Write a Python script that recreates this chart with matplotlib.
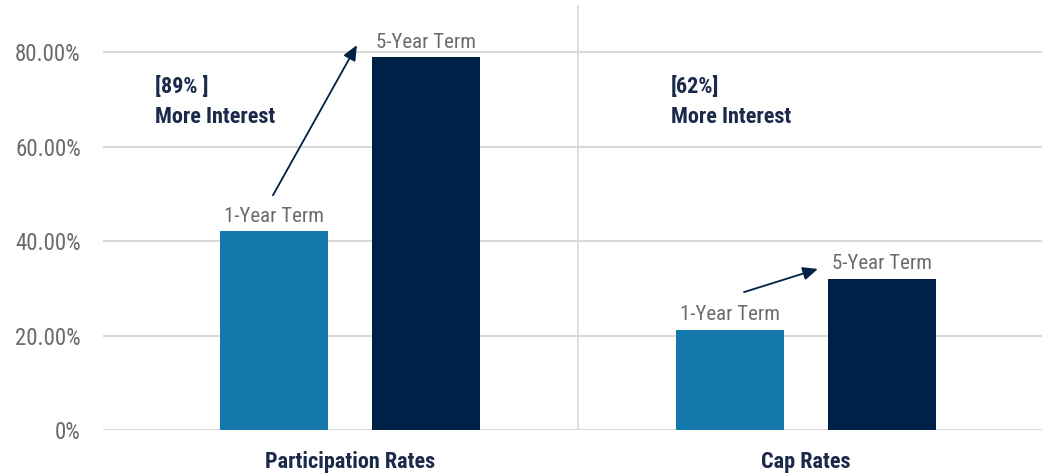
import matplotlib
matplotlib.use("Agg")
import matplotlib.pyplot as plt
from matplotlib import font_manager as fm
from matplotlib.transforms import ScaledTranslation
import numpy as np

# 数据
categories = ["Participation Rates", "Cap Rates"]
one_year = [42.1, 21.2]
five_year = [78.9, 32.0]
series_names = ["1-Year Term", "5-Year Term"]
notes = ["[89% ]\nMore Interest", "[62%]\nMore Interest"]
yticks = [0, 20, 40, 60, 80]
ytick_labels = ["0%", "20.00%", "40.00%", "60.00%", "80.00%"]

c_light = "#1478aa"
c_dark = "#002147"
c_text = "#6b6b6b"
c_note = "#1b2a4a"


# 找一个窄体字体
def pick_font():
    names = [f.name for f in fm.fontManager.ttflist]
    for n in ["Roboto Condensed", "Liberation Sans Narrow", "Open Sans Condensed",
              "Noto Sans Condensed", "DejaVu Sans Condensed"]:
        if n in names:
            return n, "normal"
    for f in fm.fontManager.ttflist:
        if f.name in ("Roboto", "Noto Sans", "Open Sans", "DejaVu Sans") and \
                str(f.stretch) in ("condensed", "semi-condensed", "extra-condensed"):
            return f.name, str(f.stretch)
    return "DejaVu Sans", "normal"


font_name, font_stretch = pick_font()
plt.rcParams["font.family"] = [font_name, "DejaVu Sans"]
plt.rcParams["font.stretch"] = font_stretch

fig = plt.figure(figsize=(10.42, 4.75), dpi=100)
ax = fig.add_axes([103 / 1042, 45 / 475, 939 / 1042, 425 / 475])

x = np.arange(len(categories))
w = 0.235
off = 0.1667
b1 = ax.bar(x - off, one_year, w, color=c_light, zorder=3)
b2 = ax.bar(x + off, five_year, w, color=c_dark, zorder=3)

for bars, name in [(b1, series_names[0]), (b2, series_names[1])]:
    for r in bars:
        ax.text(r.get_x() + r.get_width() / 2, r.get_height() + 1.2, name,
                ha="center", va="bottom", fontsize=15, color=c_text)

# 箭头
arrows = [((-0.169, 49.7), (0.015, 81.5)), ((0.864, 29.2), (1.026, 34.1))]
for start, end in arrows:
    ax.annotate("", xy=end, xytext=start,
                arrowprops=dict(arrowstyle="-|>,head_length=0.9,head_width=0.4",
                                color=c_dark, lw=1.3, shrinkA=0, shrinkB=0))

note_pos = [(-0.428, 75.0), (0.704, 75.0)]
for (nx, ny), txt in zip(note_pos, notes):
    ax.text(nx, ny, txt, ha="left", va="top", fontsize=16, fontweight="bold",
            color=c_note, linespacing=1.5)

ax.set_xlim(-0.5417, 1.5175)
ax.set_ylim(0, 90)
ax.set_yticks(yticks)
ax.set_yticklabels(ytick_labels, fontsize=16.5, color=c_text)
ax.set_xticks(x)
ax.set_xticklabels(categories, fontsize=16, fontweight="bold", color=c_note)
shift = ScaledTranslation(-6 / 100, 0, fig.dpi_scale_trans)
for lab in ax.get_xticklabels():
    lab.set_transform(lab.get_transform() + shift)
ax.tick_params(length=0)
ax.tick_params(axis="x", pad=15)
ax.tick_params(axis="y", pad=16)
ax.grid(axis="y", color="#d9d9d9", lw=1.5, zorder=0)
ax.axvline(0.5, color="#d9d9d9", lw=1.2, zorder=0)
for s in ax.spines.values():
    s.set_visible(False)

fig.savefig("out.png", dpi=100)
